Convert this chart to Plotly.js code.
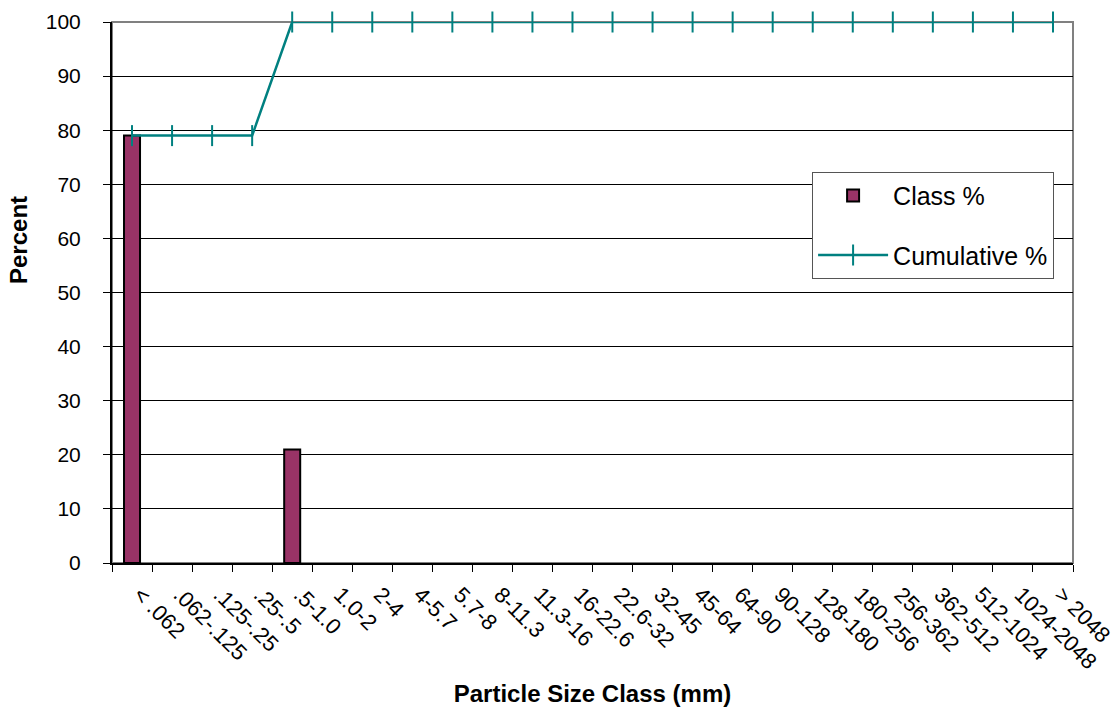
<!DOCTYPE html>
<html>
<head>
<meta charset="utf-8">
<script src="https://cdn.plot.ly/plotly-3.0.1.min.js"></script>
<style>html,body{margin:0;padding:0;background:#fff;}#chart{width:1117px;height:707px;}</style>
</head>
<body>
<div id="chart"></div>
<script>
const categories = ["< .062", ".062-.125", ".125-.25", ".25-.5", ".5-1.0", "1.0-2", "2-4", "4-5.7", "5.7-8", "8-11.3", "11.3-16", "16-22.6", "22.6-32", "32-45", "45-64", "64-90", "90-128", "128-180", "180-256", "256-362", "362-512", "512-1024", "1024-2048", "> 2048"];
const classPct = [79, 0, 0, 0, 21, 0, 0, 0, 0, 0, 0, 0, 0, 0, 0, 0, 0, 0, 0, 0, 0, 0, 0, 0];
const cumulativePct = [79, 79, 79, 79, 100, 100, 100, 100, 100, 100, 100, 100, 100, 100, 100, 100, 100, 100, 100, 100, 100, 100, 100, 100];
const yTicks = [0, 10, 20, 30, 40, 50, 60, 70, 80, 90, 100];

const FONT = "Liberation Sans, Arial, sans-serif";

const traces = [
  {
    type: "bar", name: "Class %", x: categories, y: classPct,
    marker: {color: "#993366", line: {color: "#000000", width: classPct.map(v => v > 0 ? 2 : 0)}},
    legendgroup: "a"
  },
  {
    type: "scatter", mode: "lines+markers", name: "Cumulative %", x: categories, y: cumulativePct,
    line: {color: "#008080", width: 2.5},
    marker: {symbol: "line-ns-open", size: 15, color: "#008080", line: {color: "#008080", width: 2}},
    legendgroup: "b", cliponaxis: false
  }
];

const layout = {
  width: 1117, height: 707,
  margin: {l: 112, r: 44, t: 22, b: 144},
  paper_bgcolor: "#ffffff", plot_bgcolor: "#ffffff",
  font: {family: FONT, color: "#000000", size: 21},
  bargap: 0.6,
  showlegend: true,
  legend: {
    x: 0.7285, y: 0.723, xanchor: "left", yanchor: "top",
    bordercolor: "#555555", borderwidth: 1, bgcolor: "#ffffff",
    font: {family: FONT, size: 25, color: "#000000"},
    traceorder: "grouped", tracegroupgap: 24, itemwidth: 70
  },
  xaxis: {
    type: "category", categoryorder: "array", categoryarray: categories,
    range: [-0.5, categories.length - 0.5], autorange: false,
    tickson: "boundaries", ticks: "outside", ticklen: 7, tickcolor: "#000000", tickwidth: 1,
    tickangle: 45, tickfont: {family: FONT, size: 22}, ticklabelstandoff: 8, ticklabelshift: 8,
    showline: true, linecolor: "#000000", linewidth: 2,
    showgrid: false, zeroline: false, automargin: false,
    title: {text: "<b>Particle Size Class (mm)</b>", font: {family: FONT, size: 24}, standoff: 30}
  },
  yaxis: {
    range: [0, 100], autorange: false, tickvals: yTicks, ticktext: yTicks.map(String),
    ticks: "outside", ticklen: 7, tickcolor: "#000000", tickwidth: 1,
    tickfont: {family: FONT, size: 21}, ticklabelstandoff: 18,
    showline: true, linecolor: "#000000", linewidth: 2,
    showgrid: true, gridcolor: "#000000", gridwidth: 1,
    zeroline: false, automargin: false
  },
  annotations: [{
    text: "<b>Percent</b>", xref: "paper", yref: "paper",
    x: -112 / 961 + 18 / 961, y: (563 - 240) / 541, xanchor: "center", yanchor: "middle",
    textangle: -90, showarrow: false, font: {family: FONT, size: 24, color: "#000000"}
  }],
  shapes: [{
    type: "rect", xref: "paper", yref: "paper", x0: 0, x1: 1, y0: 0, y1: 1,
    line: {color: "#808080", width: 2}, layer: "below"
  }]
};

Plotly.newPlot("chart", traces, layout, {displayModeBar: false, staticPlot: true});
</script>
</body>
</html>
